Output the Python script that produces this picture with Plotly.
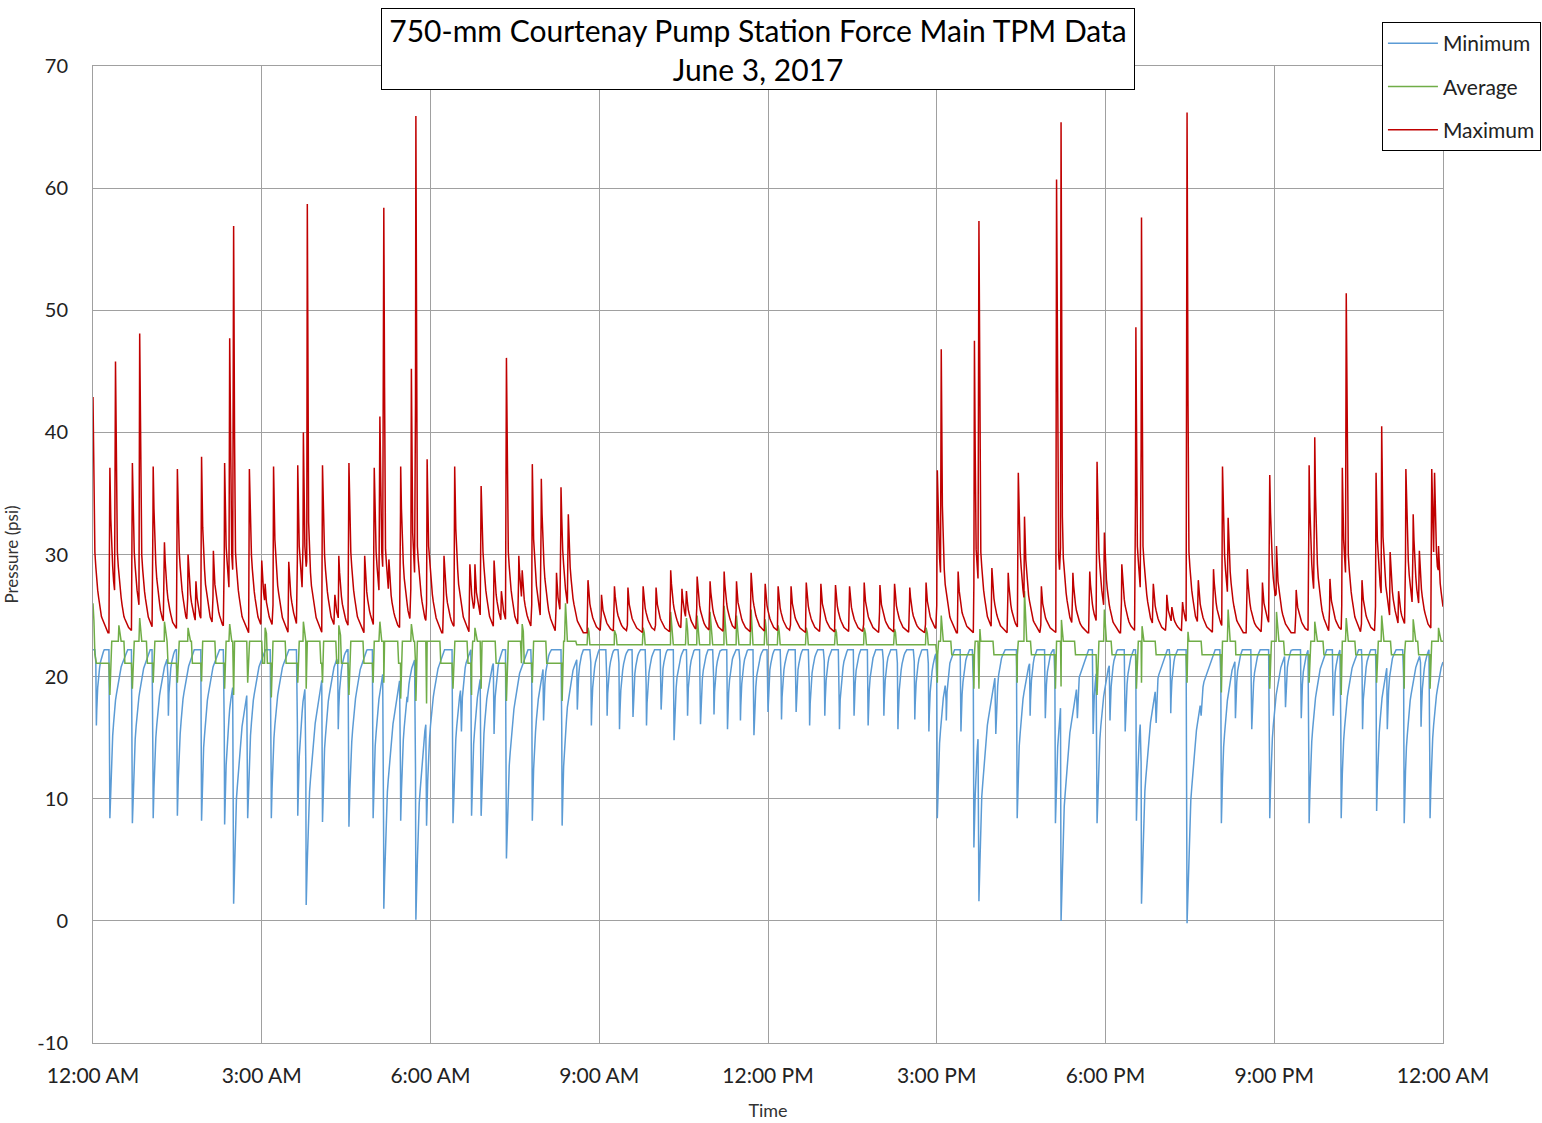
import numpy as np
import pandas as pd
import plotly.graph_objects as go

# ---------------- data (hours after midnight, psi) ----------------
max_times = [0.00, 0.30, 0.40, 0.46, 0.70, 0.83, 1.07, 1.27, 1.50, 1.69, 1.83, 1.93, 2.14, 2.34, 2.43, 2.50,
             2.78, 3.00, 3.06, 3.21, 3.48, 3.64, 3.74, 3.81, 4.08, 4.30, 4.37, 4.55, 4.83, 5.00, 5.10, 5.17,
             5.26, 5.47, 5.66, 5.74, 5.94, 6.24, 6.43, 6.70, 6.79, 6.90, 7.13, 7.26, 7.35, 7.57, 7.63, 7.81,
             7.97, 8.24, 8.32, 8.45, 8.80, 9.04, 9.27, 9.51, 9.78, 10.01, 10.27, 10.47, 10.55, 10.74, 10.97,
             11.22, 11.44, 11.70, 11.95, 12.18, 12.41, 12.68, 12.94, 13.20, 13.45, 13.71, 13.99, 14.25, 14.52,
             14.81, 15.01, 15.08, 15.38, 15.67, 15.75, 15.98, 16.27, 16.45, 16.56, 16.86, 17.13, 17.21, 17.42,
             17.72, 17.85, 17.98, 18.29, 18.54, 18.64, 18.85, 19.09, 19.18, 19.37, 19.45, 19.65, 19.92, 20.08,
             20.18, 20.52, 20.79, 20.92, 21.04, 21.39, 21.62, 21.72, 21.99, 22.21, 22.28, 22.56, 22.81, 22.91,
             23.06, 23.21, 23.34, 23.47, 23.58, 23.80, 23.85, 23.92]
max_peaks = [42.9, 37.1, 45.8, 28.4, 37.5, 48.1, 37.2, 31.0, 37.0, 30.0, 27.8, 38.0, 30.3, 37.5, 47.7, 56.9,
             37.0, 29.5, 27.6, 37.2, 29.4, 37.3, 40.0, 58.7, 37.3, 26.7, 29.9, 37.5, 29.9, 37.1, 41.3, 58.4,
             29.6, 37.2, 45.2, 65.9, 37.8, 29.9, 37.2, 29.2, 29.2, 35.6, 29.5, 27.0, 46.1, 29.9, 28.7, 37.4,
             36.2, 28.5, 35.5, 33.3, 27.9, 26.7, 27.4, 27.3, 27.4, 27.3, 28.7, 27.2, 27.0, 28.2, 27.8,
             28.6, 27.8, 28.5, 27.6, 27.4, 27.4, 27.7, 27.6, 27.5, 27.4, 27.7, 27.5, 27.6, 27.3,
             27.7, 36.9, 46.8, 28.6, 47.5, 57.3, 28.9, 28.5, 36.7, 33.1, 27.4, 60.7, 65.4, 28.5,
             28.6, 37.6, 31.8, 29.2, 48.6, 57.6, 27.6, 26.7, 25.7, 26.1, 66.2, 27.9, 28.8, 37.2,
             33.0, 28.8, 27.7, 36.5, 30.7, 27.1, 37.3, 39.6, 28.0, 37.1, 51.4, 27.9, 36.7, 40.5,
             30.2, 27.0, 37.0, 33.3, 30.3, 37.0, 36.7, 30.7]

min_times = [0.06, 0.30, 0.70, 1.07, 1.34, 1.50, 1.93, 2.34, 2.50, 2.75, 3.17, 3.64, 3.74, 3.79, 4.08, 4.36,
             4.55, 4.98, 5.17, 5.47, 5.59, 5.74, 5.93, 6.40, 6.55, 6.73, 6.90, 7.13, 7.35, 7.81, 8.01, 8.34,
             8.61, 8.86, 9.14, 9.36, 9.60, 9.84, 10.10, 10.33, 10.57, 10.80, 11.04, 11.28, 11.51, 11.75, 12.00,
             12.24, 12.50, 12.74, 13.01, 13.27, 13.53, 13.78, 14.06, 14.31, 14.61, 14.86, 15.01, 15.17, 15.43,
             15.66, 15.75, 16.05, 16.43, 16.66, 16.93, 17.11, 17.21, 17.50, 17.78, 17.85, 18.08, 18.35, 18.55,
             18.64, 18.90, 19.16, 19.45, 19.70, 20.06, 20.31, 20.60, 20.92, 21.20, 21.48, 21.62, 22.05, 22.19,
             22.57, 22.82, 23.01, 23.31, 23.61, 23.77]
min_dips = [16.0, 8.4, 8.0, 8.4, 16.8, 8.6, 8.2, 7.9, 1.4, 8.4, 8.4, 8.6, 18.2, 1.3, 8.1, 15.7,
            7.7, 8.4, 1.0, 8.2, 17.9, 0.1, 7.8, 8.0, 15.5, 8.6, 8.6, 15.3, 5.1, 8.2, 16.4, 7.8,
            17.3, 16.0, 16.8, 15.7, 16.7, 16.0, 17.3, 14.8, 16.8, 16.1, 16.9, 15.7, 16.4, 15.2, 17.1,
            16.5, 17.1, 16.0, 16.8, 15.7, 16.8, 16.0, 16.8, 15.7, 16.5, 15.5, 8.4, 16.4, 15.5,
            6.0, 1.6, 15.3, 8.4, 16.8, 16.6, 8.0, 0.0, 16.6, 15.3, 8.0, 16.4, 15.5, 8.2,
            1.4, 16.2, 17.0, -0.2, 16.8, 8.0, 16.6, 15.7, 8.4, 17.5, 16.6, 8.0, 16.8, 8.4,
            15.7, 9.0, 15.7, 8.0, 15.9, 8.4]

avg_dip_times = [0.30, 0.70, 1.07, 1.50, 1.93, 2.34, 2.50, 2.75, 3.17, 3.64, 3.79, 4.08, 4.55, 4.98, 5.17,
                 5.47, 5.74, 5.93, 6.40, 6.73, 6.90, 7.35, 7.81, 8.34, 15.01, 15.66, 15.75, 16.43, 17.11,
                 17.21, 17.85, 18.55, 18.64, 19.45, 20.06, 20.92, 21.62, 22.19, 22.82, 23.31, 23.77]
avg_dips = [18.5, 19.0, 19.5, 19.5, 19.6, 19.0, 18.5, 19.5, 18.3, 19.5, 19.0, 19.5, 18.5, 19.5, 19.5,
            18.2, 18.0, 17.8, 19.0, 18.5, 19.0, 18.0, 19.5, 18.0, 19.5, 19.0, 19.0, 19.5, 19.0,
            19.2, 18.5, 19.0, 19.5, 19.5, 18.7, 19.0, 19.5, 18.5, 19.5, 19.0, 19.0]

avg_peak_times = [0.00, 0.46, 0.83, 1.27, 1.69, 2.43, 3.06, 3.74, 4.37, 5.10, 5.66, 6.79, 7.63, 8.40,
                  8.80, 9.27, 9.78, 10.27, 10.55, 10.74, 10.97, 11.22, 11.44, 11.70, 11.95, 12.18, 12.68,
                  13.20, 13.71, 14.25, 14.81, 15.08, 15.75, 16.56, 17.21, 17.98, 18.64, 19.45, 20.18,
                  21.04, 21.72, 22.28, 22.91, 23.47, 23.92]
avg_peaks = [26.0, 24.2, 24.8, 24.5, 24.0, 24.3, 24.0, 24.5, 24.2, 24.5, 24.3, 24.0, 24.3, 26.0,
             24.0, 23.8, 24.0, 25.3, 24.8, 25.0, 25.3, 25.8, 25.0, 25.5, 24.7, 24.2, 24.0,
             23.9, 24.0, 23.9, 24.0, 25.0, 24.5, 27.0, 25.0, 25.5, 24.5, 24.0, 25.5,
             25.3, 24.5, 24.8, 25.0, 24.7, 24.0]

max_base = 23.6
min_base = 22.2
avg_low_edges = [0.0, 8.5, 15.0, 24.01]
avg_low_levels = [21.1, 22.6, 21.8]
avg_high = 22.9

series_names = ["Minimum", "Average", "Maximum"]
series_colors = ["#5b9bd5", "#70ad47", "#c00000"]
tick_hours = [0, 3, 6, 9, 12, 15, 18, 21, 24]
y_ticks = [-10, 0, 10, 20, 30, 40, 50, 60, 70]

# ---------------- build traces from the read events ----------------
t = np.unique(np.concatenate([np.arange(0, 24.0001, 1 / 60),
                              np.clip(max_times + min_times + avg_dip_times + avg_peak_times, 0, 24)]))

y_max = np.full_like(t, max_base)
for tp, p in zip(max_times, max_peaks):
    a = p - max_base
    ac = min(a, 12.0)
    kx = tp + np.array([-0.012, 0, 0.025, 0.07, 0.14, 0.26])
    kv = max_base + np.array([0, a, ac * 0.6, ac * 0.33, ac * 0.12, 0])
    y_max = np.maximum(y_max, np.interp(t, kx, kv, left=max_base, right=max_base))

y_min = np.full_like(t, min_base)
for tp, d in zip(min_times, min_dips):
    dl = min_base - d
    rec = 0.022 * dl
    kx = tp + np.array([-0.012, 0, 0.1 * rec, 0.3 * rec, 0.6 * rec, rec])
    kv = d + dl * np.array([1, 0, 0.4, 0.68, 0.88, 1])
    y_min = np.minimum(y_min, np.interp(t, kx, kv, left=min_base, right=min_base))

y_avg = np.empty_like(t)
for i in range(len(avg_low_levels)):
    m = (t >= avg_low_edges[i]) & (t < avg_low_edges[i + 1])
    y_avg[m] = avg_low_levels[i]
for tp in avg_dip_times:
    m = (t >= tp + 0.02) & (t <= tp + 0.25)
    y_avg[m] = np.maximum(y_avg[m], avg_high)
for tp, p in zip(avg_peak_times, avg_peaks):
    kx = tp + np.array([-0.012, 0, 0.03, 0.08])
    kv = np.array([0, p, avg_high + 0.5, 0])
    y_avg = np.maximum(y_avg, np.interp(t, kx, kv, left=0, right=0))
for tp, d in zip(avg_dip_times, avg_dips):
    kx = tp + np.array([-0.012, 0, 0.025])
    kv = np.array([99, d, 99])
    y_avg = np.minimum(y_avg, np.interp(t, kx, kv, left=99, right=99))

t0 = pd.Timestamp("2017-06-03 00:00")
xs = t0 + pd.to_timedelta(t, unit="h")

fig = go.Figure()
for name, col, ys in zip(series_names, series_colors, [y_min, y_avg, y_max]):
    fig.add_trace(go.Scatter(x=xs, y=ys, mode="lines", name=name, legendgroup=name,
                             line=dict(color=col, width=1.5)))

FONT = "Lato"
fig.update_layout(
    width=1542, height=1123,
    margin=dict(l=93, r=99, t=66, b=80, autoexpand=False),
    paper_bgcolor="white", plot_bgcolor="white",
    font=dict(family=FONT, size=18, color="#333333"),
    showlegend=True,
    legend=dict(xref="container", yref="container", x=0.8962, y=0.9804,
                xanchor="left", yanchor="top",
                bordercolor="black", borderwidth=1, bgcolor="white",
                font=dict(family=FONT, size=21, color="#222222"),
                tracegroupgap=13, itemwidth=50),
    annotations=[dict(text="750-mm Courtenay Pump Station Force Main TPM Data<br>June 3, 2017",
                      xref="paper", yref="paper", x=0.4926, y=1.0169, xanchor="center", yanchor="middle",
                      showarrow=False, font=dict(family=FONT, size=30, color="black"),
                      bordercolor="black", borderwidth=1, bgcolor="white",
                      width=748, height=76, borderpad=2)],
)
fig.update_xaxes(
    range=[t0, t0 + pd.Timedelta(hours=24)],
    tickvals=[t0 + pd.Timedelta(hours=h) for h in tick_hours],
    tickformat="%-I:%M %p", automargin=False,
    showgrid=True, gridcolor="#a0a0a0", gridwidth=1,
    showline=True, linecolor="#a0a0a0", mirror=True,
    ticks="", ticklabelstandoff=14,
    title=dict(text="Time", font=dict(family=FONT, size=18), standoff=18),
    tickfont=dict(family=FONT, size=21, color="#222222"),
)
fig.update_yaxes(
    range=[-10, 70], tickvals=y_ticks, ticktext=[str(v) for v in y_ticks], automargin=False,
    showgrid=True, gridcolor="#a0a0a0", gridwidth=1,
    showline=True, linecolor="#a0a0a0", mirror=True, zeroline=False,
    ticks="", ticklabelstandoff=20,
    title=dict(text="Pressure (psi)", font=dict(family=FONT, size=17), standoff=14),
    tickfont=dict(family=FONT, size=20, color="#222222"),
)

fig.write_html("out.html")
